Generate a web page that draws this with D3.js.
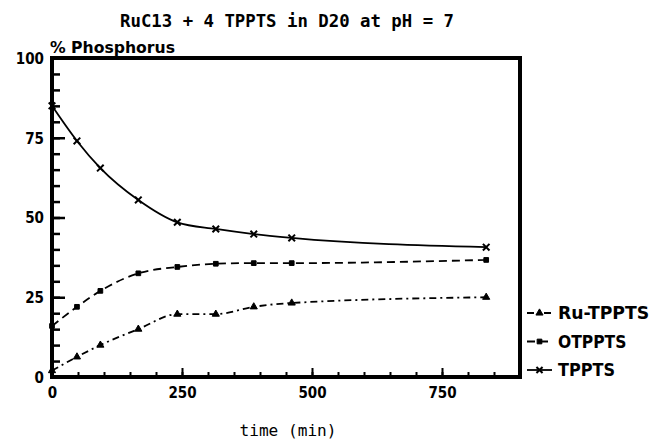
<!DOCTYPE html>
<html lang="en">
<head>
<meta charset="utf-8">
<script src="https://d3js.org/d3.v7.min.js"></script>
<style>
  body { margin: 0; background: #fff; }
  text { fill: #000; }
</style>
</head>
<body>
<script>
// the data
var times    = [0, 48, 93, 166, 241, 315, 388, 461, 835];
var ruTppts  = [2, 6.3, 10, 15, 19.7, 19.7, 22, 23.2, 25];
var otppts   = [16, 22, 27, 32.5, 34.5, 35.5, 35.7, 35.7, 36.7];
var tppts    = [85, 74, 65.5, 55.5, 48.5, 46.4, 44.8, 43.6, 40.7];
var seriesNames = ["Ru-TPPTS", "OTPPTS", "TPPTS"];
var xMajor = [0, 250, 500, 750];
var yMajor = [0, 25, 50, 75, 100];

var width = 652, height = 443;
var labelFont = "'DejaVu Sans Condensed', 'DejaVu Sans', sans-serif";
var monoFont = "'DejaVu Sans Mono', monospace";

var svg = d3.select("body").append("svg")
            .attr("width", width)
            .attr("height", height);

var x = d3.scaleLinear().domain([0, 900]).range([52, 520]);
var y = d3.scaleLinear().domain([0, 100]).range([377, 58]);

// minor ticks, left and bottom, pointing inward
svg.append("g")
   .attr("transform", "translate(" + x(0) + ",0)")
   .call(d3.axisLeft(y).tickValues(d3.range(0, 101, 5)).tickSize(-8).tickFormat(""))
   .call(g => g.select(".domain").remove())
   .call(g => g.selectAll("line").attr("stroke-width", 2.5));

svg.append("g")
   .attr("transform", "translate(0," + y(0) + ")")
   .call(d3.axisBottom(x).tickValues(d3.range(0, 901, 50)).tickSize(-5).tickFormat(""))
   .call(g => g.select(".domain").remove())
   .call(g => g.selectAll("line").attr("stroke-width", 2));

// major ticks with labels
svg.append("g")
   .attr("transform", "translate(" + x(0) + ",0)")
   .call(d3.axisLeft(y).tickValues(yMajor).tickSize(-13).tickPadding(8))
   .call(g => g.select(".domain").remove())
   .call(g => g.selectAll("line").attr("stroke-width", 2.5))
   .call(g => g.selectAll("text")
        .attr("font-family", labelFont).attr("font-weight", "bold")
        .attr("font-size", 15).attr("dy", "0.35em"));

svg.append("g")
   .attr("transform", "translate(0," + y(0) + ")")
   .call(d3.axisBottom(x).tickValues(xMajor).tickSize(-9).tickPadding(10))
   .call(g => g.select(".domain").remove())
   .call(g => g.selectAll("line").attr("stroke-width", 2))
   .call(g => g.selectAll("text")
        .attr("font-family", labelFont).attr("font-weight", "bold")
        .attr("font-size", 15));

// the frame
svg.append("path")
   .attr("d", "M" + x(0) + "," + y(0) + "H" + x(900) + "V" + y(100) + "H" + x(0) + "Z")
   .attr("fill", "none")
   .attr("stroke", "#000")
   .attr("stroke-width", 4);

// series
var series = [
  {name: seriesNames[0], values: ruTppts, dash: "7,4,2,4", symbol: d3.symbolTriangle, fill: "#000"},
  {name: seriesNames[1], values: otppts, dash: "8,5", symbol: d3.symbolSquare, fill: "#000"},
  {name: seriesNames[2], values: tppts, dash: null, symbol: d3.symbolTimes, fill: "none"}
];

var line = d3.line()
             .x(d => x(d[0]))
             .y(d => y(d[1]))
             .curve(d3.curveMonotoneX);

series.forEach(function(s) {
  var pts = times.map((t, i) => [t, s.values[i]]);
  svg.append("path")
     .datum(pts)
     .attr("d", line)
     .attr("fill", "none")
     .attr("stroke", "#000")
     .attr("stroke-width", 1.8)
     .attr("stroke-dasharray", s.dash);

  svg.selectAll(null)
     .data(pts)
     .enter().append("path")
     .attr("transform", d => "translate(" + x(d[0]) + "," + y(d[1]) + ")")
     .attr("d", d3.symbol().type(s.symbol).size(s.fill === "none" ? 30 : 22))
     .attr("fill", s.fill)
     .attr("stroke", "#000")
     .attr("stroke-width", s.fill === "none" ? 2 : 1);
});

// legend
var legend = svg.append("g");
series.forEach(function(s, i) {
  var ly = 313 + i * 28.5;
  legend.append("line")
        .attr("x1", 527).attr("x2", 552)
        .attr("y1", ly).attr("y2", ly)
        .attr("stroke", "#000")
        .attr("stroke-width", 1.8)
        .attr("stroke-dasharray", s.dash);
  legend.append("path")
        .attr("transform", "translate(539.5," + ly + ")")
        .attr("d", d3.symbol().type(s.symbol).size(s.fill === "none" ? 26 : 22))
        .attr("fill", s.fill)
        .attr("stroke", "#000")
        .attr("stroke-width", s.fill === "none" ? 2 : 1);
  legend.append("text")
        .attr("x", 558).attr("y", ly)
        .attr("dy", "0.36em")
        .attr("font-family", labelFont)
        .attr("font-weight", "bold")
        .attr("font-size", 17)
        .attr("textLength", s.name.length * 11.4)
        .attr("lengthAdjust", "spacingAndGlyphs")
        .text(s.name);
});

// title and axis labels
svg.append("text")
   .attr("x", 287).attr("y", 27)
   .attr("text-anchor", "middle")
   .attr("font-family", monoFont)
   .attr("font-weight", "bold")
   .attr("font-size", 17)
   .attr("textLength", 334)
   .attr("lengthAdjust", "spacingAndGlyphs")
   .text("RuC13 + 4 TPPTS in D20 at pH = 7");

svg.append("text")
   .attr("x", 50).attr("y", 53)
   .attr("font-family", labelFont)
   .attr("font-weight", "bold")
   .attr("font-size", 15)
   .attr("textLength", 125)
   .attr("lengthAdjust", "spacingAndGlyphs")
   .text("% Phosphorus");

svg.append("text")
   .attr("x", 288).attr("y", 436)
   .attr("text-anchor", "middle")
   .attr("font-family", monoFont)
   .attr("font-size", 16)
   .attr("textLength", 97)
   .attr("lengthAdjust", "spacingAndGlyphs")
   .text("time (min)");
</script>
</body>
</html>
